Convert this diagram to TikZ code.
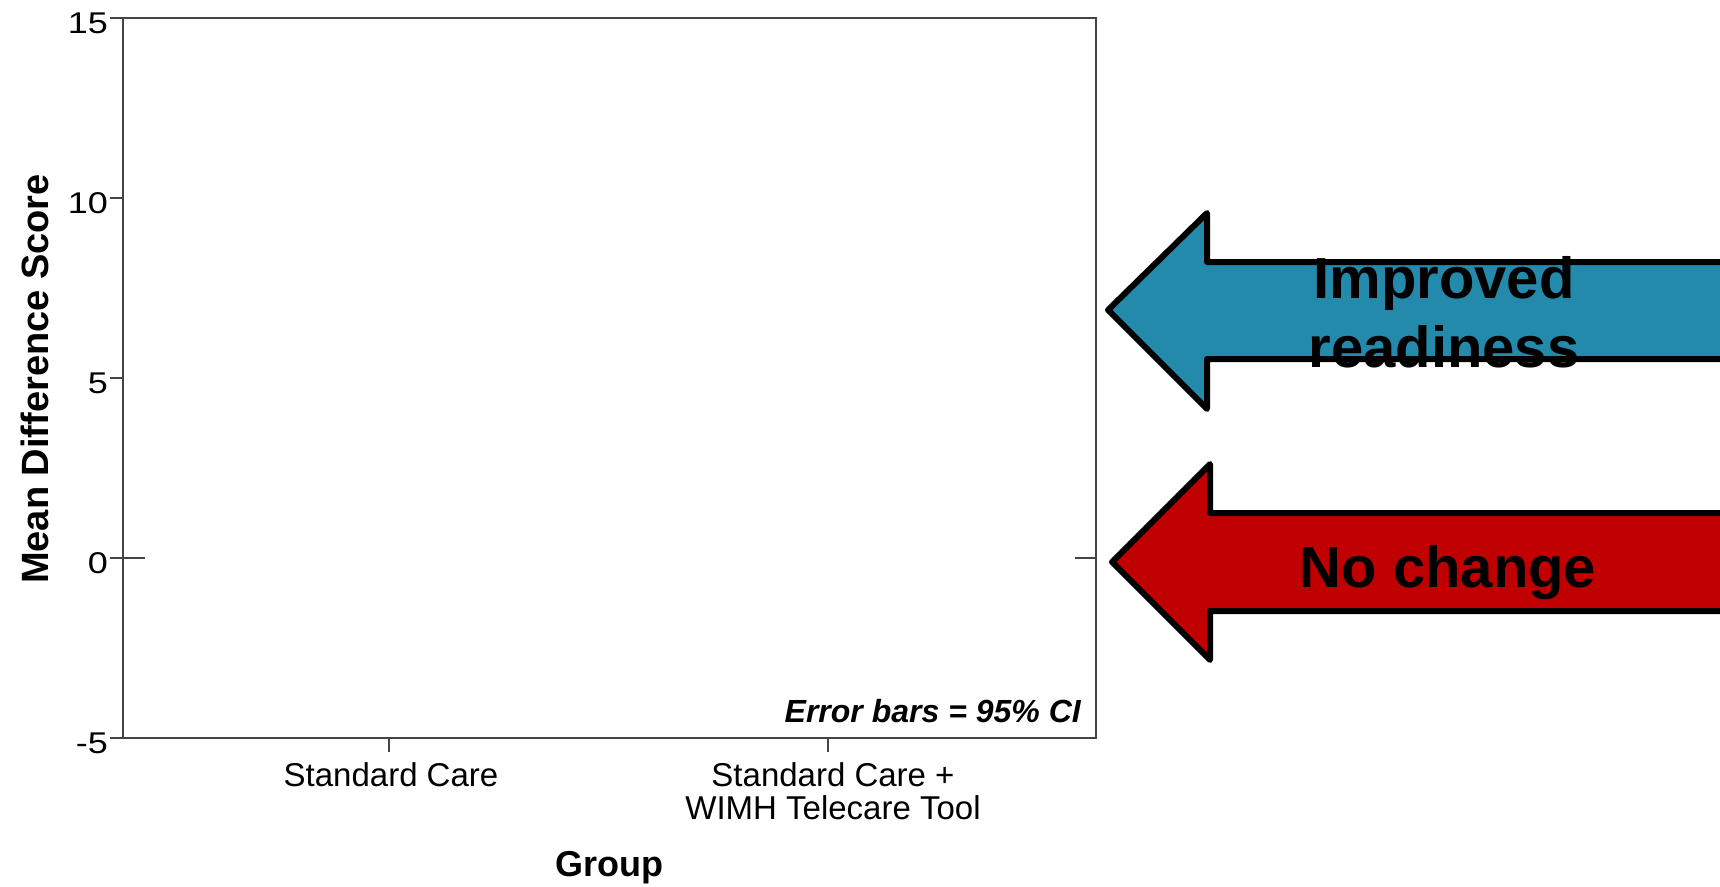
\documentclass[tikz,border=0pt]{standalone}
\usepackage{fontspec}
\setmainfont{Liberation Sans}
\newfontfamily\widesans[FakeStretch=1.2]{Liberation Sans}
\usetikzlibrary{positioning}
\definecolor{arrowblue}{RGB}{36,138,172}
\definecolor{arrowred}{RGB}{192,0,0}
\definecolor{axisgray}{RGB}{68,68,68}
\tikzset{
  axisline/.style  = {draw=axisgray, line width=2pt},
  ticklabel/.style = {font=\widesans\fontsize{30}{30}\selectfont, inner sep=0pt},
  grouplabel/.style = {font=\fontsize{33}{33}\selectfont, align=center, inner sep=0pt},
  axistitle/.style = {font=\bfseries\fontsize{36}{36}\selectfont, inner sep=0pt},
  note/.style      = {font=\bfseries\itshape\fontsize{32}{32}\selectfont, inner sep=0pt},
  bigarrow/.style  = {draw=black, line width=6pt, line join=round},
  arrowtext/.style = {font=\bfseries\fontsize{58}{58}\selectfont, inner sep=0pt}
}
\begin{document}
\begin{tikzpicture}[x=1pt, y=-1pt]
\useasboundingbox (0,0) rectangle (1720,886);
% plot frame
\coordinate (nw) at (123,18);
\coordinate (se) at (1096,738);
\draw [axisline] (nw) rectangle (se);
% y axis ticks
\foreach \v/\y in {15/18, 10/198, 5/378, 0/558, -5/738} {
  \coordinate (yt\v) at (123,\y);
  \draw [axisline] (yt\v) -- ++(-13,0);
  \node [ticklabel, anchor=east] (ylab\v) at (108,\y+5) {\v};
}
% short zero marks
\coordinate (zl) at (145,558);
\coordinate (zr) at (1075,558);
\draw [axisline] (yt0) -- (zl);
\draw [axisline] (zr) -- (1096,558);
% x axis ticks
\coordinate (xt1) at (389,738);
\coordinate (xt2) at (828,738);
\draw [axisline] (xt1) -- ++(0,14);
\draw [axisline] (xt2) -- ++(0,14);
\node [grouplabel, anchor=north] (std) at (391,762) {Standard Care};
\node [grouplabel, anchor=north] (wimh) at (833,762) {Standard Care +\\WIMH Telecare Tool};
% titles
\node [axistitle, anchor=base] (xtitle) at (609,876) {Group};
\node [axistitle, font=\bfseries\fontsize{38}{38}\selectfont, rotate=90] (ytitle) at (35,379) {Mean Difference Score};
\node [note, anchor=base east] (errnote) at (1081,722) {Error bars = 95\% CI};
% arrows
\draw [bigarrow, fill=arrowblue] (1730,262) -- (1207,262) -- (1207,213) -- (1108,310)
  -- (1207,409) -- (1207,359) -- (1730,359) -- cycle;
\draw [bigarrow, fill=arrowred] (1730,513) -- (1210,513) -- (1210,464) -- (1112,562)
  -- (1210,660) -- (1210,611) -- (1730,611) -- cycle;
\node [arrowtext, anchor=base] (improved) at (1444,298) {Improved};
\node [arrowtext, anchor=base] (readiness) at (1444,367) {readiness};
\node [arrowtext, anchor=base] (nochange) at (1448,587) {No change};
\end{tikzpicture}
\end{document}
